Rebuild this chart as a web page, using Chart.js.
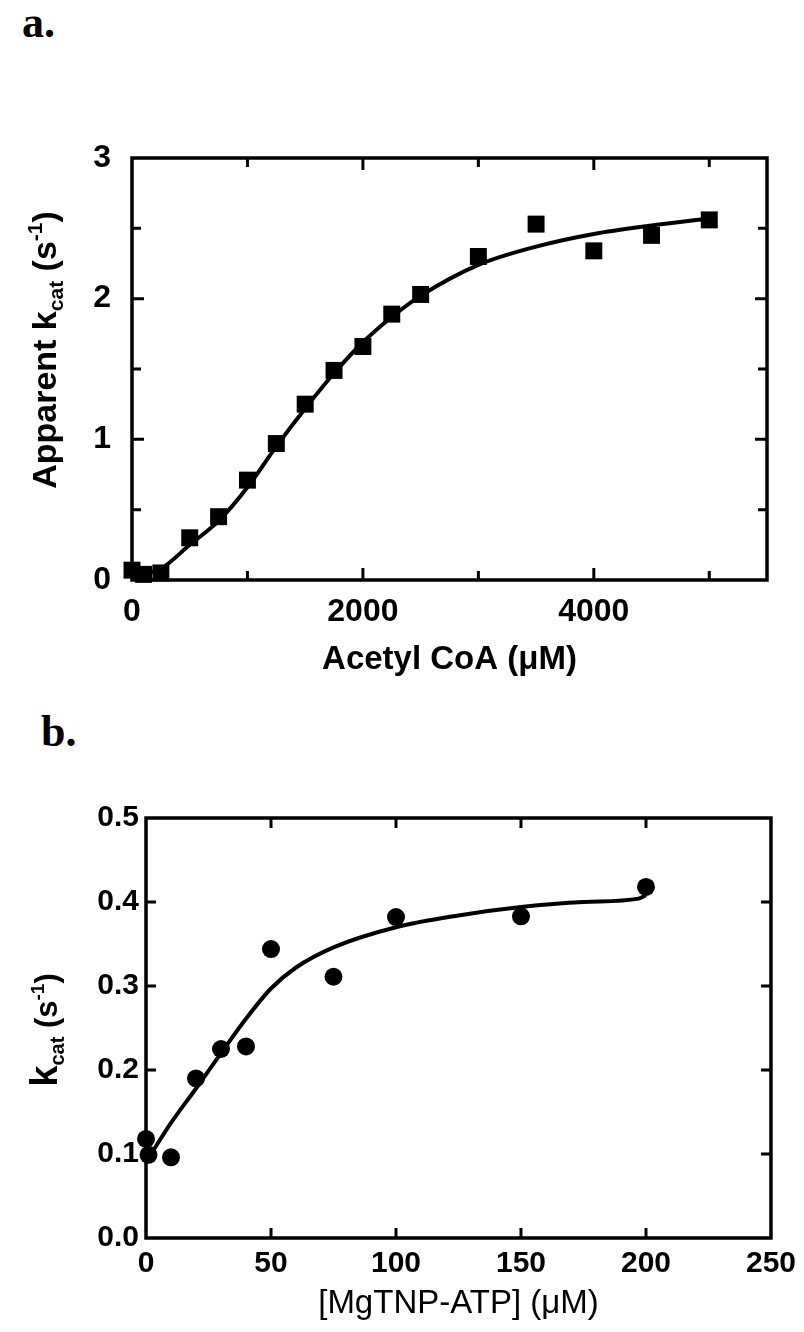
<!DOCTYPE html>
<html>
<head>
<meta charset="utf-8">
<script src="https://cdn.jsdelivr.net/npm/chart.js@4.4.0/dist/chart.umd.min.js"></script>
<style>
  html, body { margin: 0; padding: 0; background: #fff; }
  #page { position: relative; width: 804px; height: 1332px; overflow: hidden; }
  .panel { position: absolute; left: 0; width: 804px; }
  .tag { position: absolute; font-family: "Liberation Serif", "Times New Roman", serif; font-weight: bold; font-size: 44px; line-height: 1; color: #000; }
</style>
</head>
<body>
<div id="page">
  <div class="tag" style="left:22px; top:1px;">a.</div>
  <div class="panel" style="top:0; height:680px;"><canvas id="chartA"></canvas></div>
  <div class="tag" style="left:41px; top:710px;">b.</div>
  <div class="panel" style="top:680px; height:652px;"><canvas id="chartB"></canvas></div>
</div>
<script>
// panel a: apparent kcat vs acetyl CoA
const acetylConc = [0, 100, 250, 500, 750, 1000, 1250, 1500, 1750, 2000, 2250, 2500, 3000, 3500, 4000, 4500, 5000];
const acetylKcat = [0.07, 0.04, 0.05, 0.30, 0.45, 0.71, 0.97, 1.25, 1.49, 1.66, 1.89, 2.03, 2.30, 2.53, 2.34, 2.45, 2.56];
const acetylFitConc = [0, 120, 250, 500, 750, 1000, 1250, 1500, 1750, 2000, 2250, 2500, 3000, 3500, 4000, 4500, 5000];
const acetylFitKcat = [0.04, 0.05, 0.08, 0.25, 0.42, 0.66, 0.95, 1.22, 1.47, 1.69, 1.87, 2.02, 2.24, 2.37, 2.46, 2.52, 2.57];
const acetylXTicks = [0, 1000, 2000, 3000, 4000, 5000];
const acetylXLabels = [0, 2000, 4000];
const acetylYTicks = [0, 0.5, 1, 1.5, 2, 2.5, 3];
const acetylYLabels = [0, 1, 2, 3];

// panel b: kcat vs MgTNP-ATP
const tnpConc = [0, 1, 10, 20, 30, 40, 50, 75, 100, 150, 200];
const tnpKcat = [0.118, 0.099, 0.096, 0.19, 0.225, 0.228, 0.344, 0.311, 0.382, 0.383, 0.418];
const tnpFitConc = [2, 10, 20, 30, 40, 50, 60, 75, 100, 125, 150, 175, 197, 200];
const tnpFitKcat = [0.10, 0.137, 0.178, 0.22, 0.261, 0.297, 0.322, 0.346, 0.37, 0.384, 0.394, 0.40, 0.404, 0.408];
const tnpXTicks = [0, 50, 100, 150, 200, 250];
const tnpYTicks = [0, 0.1, 0.2, 0.3, 0.4, 0.5];

const SANS = '"Liberation Sans", Arial, Helvetica, sans-serif';
Chart.defaults.font.family = SANS;
Chart.defaults.color = '#000';

function toXY(xs, ys) {
    return xs.map((x, i) => ({ x: x, y: ys[i] }));
}

// box round the plot, with ticks pointing inward on all four sides
const framePlugin = {
    id: 'frame',
    beforeDatasetsDraw(chart, args, opts) {
        const { ctx, chartArea: a } = chart;
        const xs = chart.scales.x, ys = chart.scales.y;
        ctx.save();
        ctx.strokeStyle = '#000';
        ctx.lineWidth = opts.width;
        ctx.strokeRect(a.left, a.top, a.right - a.left, a.bottom - a.top);
        ctx.lineWidth = opts.tickWidth;
        ctx.beginPath();
        xs.ticks.forEach(t => {
            if (t.value <= xs.min || t.value >= xs.max) return;
            const p = xs.getPixelForValue(t.value);
            const len = t.label === '' ? opts.minor : opts.major;
            ctx.moveTo(p, a.bottom); ctx.lineTo(p, a.bottom - len);
            ctx.moveTo(p, a.top); ctx.lineTo(p, a.top + len);
        });
        ys.ticks.forEach(t => {
            if (t.value <= ys.min || t.value >= ys.max) return;
            const p = ys.getPixelForValue(t.value);
            const len = t.label === '' ? opts.minor : opts.major;
            ctx.moveTo(a.left, p); ctx.lineTo(a.left + len, p);
            ctx.moveTo(a.right, p); ctx.lineTo(a.right - len, p);
        });
        ctx.stroke();
        ctx.restore();
    }
};

// rotated y title with sub/superscript pieces
const yTitlePlugin = {
    id: 'ytitle',
    afterDraw(chart, args, opts) {
        const ctx = chart.ctx;
        ctx.save();
        ctx.translate(opts.x, opts.y);
        ctx.rotate(-Math.PI / 2);
        ctx.fillStyle = '#000';
        ctx.textBaseline = 'alphabetic';
        let total = 0;
        opts.parts.forEach(p => { ctx.font = p.font; p.w = ctx.measureText(p.text).width; total += p.w; });
        let cx = -total / 2;
        opts.parts.forEach(p => {
            ctx.font = p.font;
            ctx.fillText(p.text, cx, p.dy || 0);
            cx += p.w;
        });
        ctx.restore();
    }
};

function makeChart(id, cfg) {
    return new Chart(document.getElementById(id), {
        type: 'scatter',
        data: {
            datasets: [
                {
                    data: toXY(cfg.fitX, cfg.fitY),
                    showLine: true,
                    pointRadius: 0,
                    borderColor: '#000',
                    borderWidth: 4,
                    cubicInterpolationMode: cfg.interp,
                    tension: 0.35,
                    fill: false,
                    clip: false
                },
                {
                    data: toXY(cfg.ptX, cfg.ptY),
                    showLine: false,
                    pointStyle: cfg.pointStyle,
                    pointRadius: cfg.pointRadius,
                    backgroundColor: '#000',
                    borderColor: '#000',
                    borderWidth: 0,
                    clip: false
                }
            ]
        },
        options: {
            responsive: true,
            maintainAspectRatio: false,
            animation: false,
            events: [],
            layout: { padding: cfg.padding },
            plugins: {
                legend: { display: false },
                tooltip: { enabled: false },
                frame: { width: 3.5, tickWidth: 3, major: cfg.major, minor: cfg.minor },
                ytitle: cfg.ytitle
            },
            scales: {
                x: {
                    type: 'linear',
                    min: cfg.xMin, max: cfg.xMax,
                    grid: { display: false, drawTicks: false },
                    border: { display: false },
                    afterBuildTicks: s => { s.ticks = cfg.xTicks.map(v => ({ value: v })); },
                    ticks: {
                        autoSkip: false,
                        maxRotation: 0,
                        padding: cfg.xTickPad,
                        color: '#000',
                        font: { size: cfg.tickSize, weight: 'bold' },
                        callback: cfg.xLabel
                    },
                    title: {
                        display: true,
                        text: cfg.xTitle,
                        color: '#000',
                        font: cfg.xTitleFont,
                        padding: { top: 0, bottom: cfg.xTitlePad }
                    },
                    afterFit: s => { s.height = cfg.xHeight; }
                },
                y: {
                    type: 'linear',
                    min: cfg.yMin, max: cfg.yMax,
                    grid: { display: false, drawTicks: false },
                    border: { display: false },
                    afterBuildTicks: s => { s.ticks = cfg.yTicks.map(v => ({ value: v })); },
                    ticks: {
                        autoSkip: false,
                        padding: cfg.yTickPad,
                        color: '#000',
                        font: { size: cfg.tickSize, weight: 'bold' },
                        callback: cfg.yLabel
                    },
                    afterFit: s => { s.width = cfg.yWidth; }
                }
            }
        },
        plugins: [framePlugin, yTitlePlugin]
    });
}

makeChart('chartA', {
    fitX: acetylFitConc, fitY: acetylFitKcat,
    ptX: acetylConc, ptY: acetylKcat,
    interp: 'monotone',
    pointStyle: 'rect', pointRadius: 12,
    padding: { top: 158, right: 37, left: 0, bottom: 0 },
    major: 12, minor: 9,
    xMin: 0, xMax: 5500, xTicks: acetylXTicks,
    xLabel: v => (acetylXLabels.includes(v) ? String(v) : ''),
    xTickPad: 13, tickSize: 32,
    xTitle: 'Acetyl CoA (\u03bcM)',
    xTitleFont: { size: 33, weight: 'bold' }, xTitlePad: 0,
    xHeight: 100,
    yMin: 0, yMax: 3, yTicks: acetylYTicks,
    yLabel: v => (acetylYLabels.includes(v) ? String(v) : ''),
    yTickPad: 21, yWidth: 132,
    ytitle: {
        x: 56, y: 350,
        parts: [
            { text: 'Apparent k', font: 'bold 34px ' + SANS },
            { text: 'cat', font: 'bold 21px ' + SANS, dy: 7 },
            { text: ' (s', font: 'bold 34px ' + SANS },
            { text: '-1', font: 'bold 21px ' + SANS, dy: -14 },
            { text: ')', font: 'bold 34px ' + SANS }
        ]
    }
});

makeChart('chartB', {
    fitX: tnpFitConc, fitY: tnpFitKcat,
    ptX: tnpConc, ptY: tnpKcat,
    interp: 'monotone',
    pointStyle: 'circle', pointRadius: 9,
    padding: { top: 138, right: 28, left: 0, bottom: 0 },
    major: 10, minor: 10,
    xMin: 0, xMax: 250, xTicks: tnpXTicks,
    xLabel: v => String(v),
    xTickPad: 8, tickSize: 30,
    xTitle: '[MgTNP-ATP] (\u03bcM)',
    xTitleFont: { size: 33, weight: 'normal' }, xTitlePad: 8,
    xHeight: 94,
    yMin: 0, yMax: 0.5, yTicks: tnpYTicks,
    yLabel: v => v.toFixed(1),
    yTickPad: 7, yWidth: 146,
    ytitle: {
        x: 57, y: 350,
        parts: [
            { text: 'k', font: 'bold 38px ' + SANS },
            { text: 'cat', font: 'bold 20px ' + SANS, dy: 7 },
            { text: ' (s', font: 'bold 31px ' + SANS },
            { text: '-1', font: 'bold 19px ' + SANS, dy: -13 },
            { text: ')', font: 'bold 31px ' + SANS }
        ]
    }
});
</script>
</body>
</html>
